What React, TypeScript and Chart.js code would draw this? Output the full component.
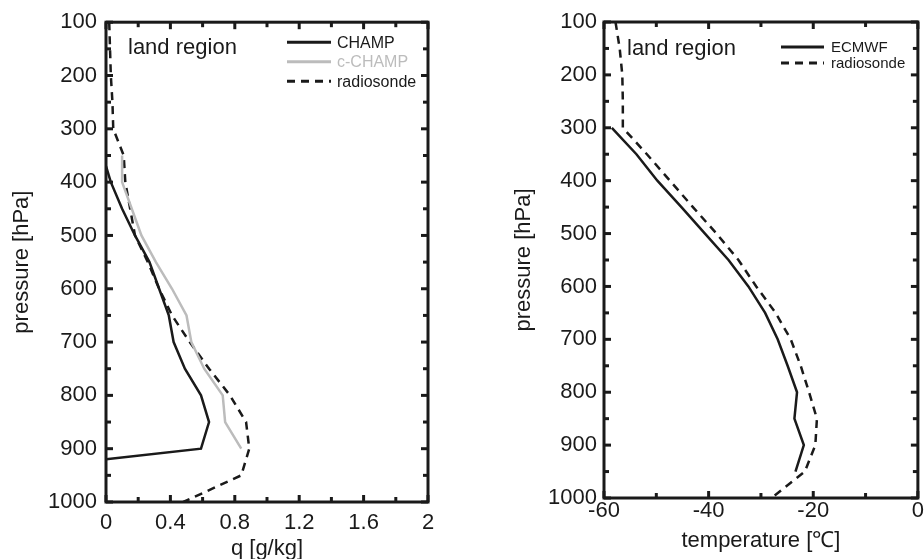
import React, { useEffect, useRef } from 'react';
import { Chart, registerables } from 'chart.js';
Chart.register(...registerables);

// ---------- data: left panel (specific humidity q [g/kg]) ----------
const champPressure = [370, 400, 450, 500, 550, 600, 650, 700, 750, 800, 850, 900, 920];
const champQ = [0, 0.03, 0.1, 0.18, 0.27, 0.33, 0.39, 0.42, 0.49, 0.59, 0.64, 0.59, 0];

const cChampPressure = [350, 400, 450, 500, 550, 600, 650, 700, 750, 800, 850, 900];
const cChampQ = [0.1, 0.1, 0.16, 0.22, 0.31, 0.41, 0.5, 0.53, 0.61, 0.725, 0.74, 0.84];

const sondeQPressure = [100, 150, 200, 250, 300, 350, 400, 450, 500, 550, 600, 650, 700, 750, 800, 850, 900, 950, 1000];
const sondeQ = [0.02, 0.025, 0.03, 0.04, 0.045, 0.11, 0.12, 0.15, 0.18, 0.26, 0.33, 0.41, 0.52, 0.64, 0.77, 0.87, 0.89, 0.84, 0.48];

// ---------- data: right panel (temperature [°C]) ----------
const ecmwfPressure = [300, 350, 400, 450, 500, 550, 600, 650, 700, 750, 800, 850, 900, 950];
const ecmwfT = [-58.5, -53.8, -49.8, -45.2, -40.7, -36.2, -32.4, -29.2, -26.8, -24.9, -23.1, -23.6, -21.8, -23.4];

const sondeTPressure = [100, 150, 200, 250, 300, 350, 400, 450, 500, 550, 600, 650, 700, 750, 800, 850, 900, 950, 1000];
const sondeT = [-57.8, -57.0, -56.5, -56.4, -56.4, -51.8, -47.4, -43.0, -38.5, -34.3, -30.9, -27.2, -24.3, -22.4, -20.8, -19.3, -19.6, -21.6, -28];

// ---------- ticks ----------
const pressureTicks = [100, 150, 200, 250, 300, 350, 400, 450, 500, 550, 600, 650, 700, 750, 800, 850, 900, 950, 1000];
const pressureLabels = [100, 200, 300, 400, 500, 600, 700, 800, 900, 1000];
const qTicks = [0, 0.2, 0.4, 0.6, 0.8, 1.0, 1.2, 1.4, 1.6, 1.8, 2.0];
const qLabels = [0, 0.4, 0.8, 1.2, 1.6, 2];
const tTicks = [-60, -50, -40, -30, -20, -10, 0];
const tLabels = [-60, -40, -20, 0];

const FONT = "'Liberation Sans', Arial, Helvetica, sans-serif";
const INK = '#1a1a1a';
const GRAY = '#bcbcbc';

const pairs = (xs: number[], ps: number[]) => xs.map((x, i) => ({ x, y: ps[i] }));
const fmt = (v: number) => String(Math.round(v * 10) / 10);
const hasLabel = (labels: number[], v: number) => labels.some((l) => Math.abs(l - v) < 1e-6);

const framePlugin = {
  id: 'frame',
  afterDraw(chart: any) {
    const { ctx, chartArea: a, scales } = chart;
    ctx.save();
    ctx.strokeStyle = INK;
    ctx.lineWidth = 3;
    ctx.lineCap = 'butt';
    const line = (x1: number, y1: number, x2: number, y2: number) => {
      ctx.beginPath();
      ctx.moveTo(x1, y1);
      ctx.lineTo(x2, y2);
      ctx.stroke();
    };
    const xs = scales.x;
    const ys = scales.y;
    xs.ticks.forEach((t: any) => {
      const px = xs.getPixelForValue(t.value);
      const len = t.label ? 7 : 5;
      line(px, a.bottom, px, a.bottom - len);
      line(px, a.top, px, a.top + len);
    });
    ys.ticks.forEach((t: any) => {
      const py = ys.getPixelForValue(t.value);
      const len = t.label ? 7 : 5;
      line(a.left, py, a.left + len, py);
      line(a.right, py, a.right - len, py);
    });
    ctx.strokeRect(a.left, a.top, a.right - a.left, a.bottom - a.top);
    ctx.restore();
  },
};

const annotPlugin = {
  id: 'annot',
  afterDraw(chart: any, _args: any, opts: any) {
    const { ctx, chartArea: a } = chart;
    ctx.save();
    ctx.font = `${opts.textSize}px ${FONT}`;
    ctx.fillStyle = INK;
    ctx.textBaseline = 'middle';
    ctx.textAlign = 'left';
    ctx.fillText(opts.text, a.left + opts.textDx, a.top + opts.textDy);
    ctx.font = `${opts.legendSize}px ${FONT}`;
    chart.data.datasets.forEach((ds: any, i: number) => {
      const y = a.top + opts.legendDy + i * opts.rowH;
      const x0 = a.left + opts.legendDx;
      ctx.strokeStyle = ds.borderColor;
      ctx.lineWidth = 3;
      ctx.setLineDash(ds.borderDash || []);
      ctx.beginPath();
      ctx.moveTo(x0, y);
      ctx.lineTo(x0 + opts.lineLen, y);
      ctx.stroke();
      ctx.setLineDash([]);
      ctx.fillStyle = ds.borderColor;
      ctx.fillText(ds.label, x0 + opts.lineLen + opts.gap, y + 1);
    });
    ctx.restore();
  },
};

function makeScale(ticksArr: number[], labels: number[], extra: any) {
  return {
    type: 'linear',
    afterBuildTicks: (s: any) => {
      s.ticks = ticksArr.map((v) => ({ value: v }));
    },
    ticks: {
      autoSkip: false,
      maxRotation: 0,
      color: INK,
      font: { family: FONT, size: 22 },
      callback: (v: number) => (hasLabel(labels, v) ? fmt(v) : ''),
      padding: extra.padding,
    },
    grid: { display: false, drawTicks: false },
    border: { display: false },
    title: {
      display: true,
      text: extra.title,
      color: INK,
      font: { family: FONT, size: 22, lineHeight: 1.2 },
      padding: extra.titlePadding,
    },
    min: extra.min,
    max: extra.max,
    reverse: extra.reverse || false,
    position: extra.position,
    afterFit: extra.afterFit,
  };
}

function Panel(props: { build: () => any; left: number }) {
  const ref = useRef<HTMLCanvasElement | null>(null);
  useEffect(() => {
    if (!ref.current) return;
    const chart = new Chart(ref.current, props.build());
    return () => chart.destroy();
  }, []);
  return (
    <canvas
      ref={ref}
      width={462}
      height={559}
      style={{ position: 'absolute', left: props.left, top: 0, width: 462, height: 559 }}
    />
  );
}

const buildLeft = () => ({
  type: 'scatter',
  data: {
    datasets: [
      { label: 'CHAMP', data: pairs(champQ, champPressure), borderColor: INK, borderWidth: 2.5, showLine: true, pointRadius: 0, borderDash: [] },
      { label: 'c-CHAMP', data: pairs(cChampQ, cChampPressure), borderColor: GRAY, borderWidth: 2.5, showLine: true, pointRadius: 0, borderDash: [] },
      { label: 'radiosonde', data: pairs(sondeQ, sondeQPressure), borderColor: INK, borderWidth: 2.5, showLine: true, pointRadius: 0, borderDash: [8, 6] },
    ],
  },
  options: {
    responsive: false,
    animation: false,
    layout: { padding: { top: 20, right: 34, left: 0, bottom: 0 } },
    plugins: {
      legend: { display: false },
      tooltip: { enabled: false },
      annot: { text: 'land region', textSize: 22, textDx: 22, textDy: 26, legendSize: 16, legendDx: 181, legendDy: 20, rowH: 19.5, lineLen: 44, gap: 6 },
    },
    scales: {
      x: makeScale(qTicks, qLabels, {
        min: 0, max: 2, position: 'bottom', padding: 8, title: 'q [g/kg]',
        titlePadding: { top: 0, bottom: -3 },
        afterFit: (s: any) => { s.height = 57; },
      }),
      y: makeScale(pressureTicks, pressureLabels, {
        min: 100, max: 1000, reverse: true, position: 'left', padding: 9, title: 'pressure [hPa]',
        titlePadding: { top: 9, bottom: 0 },
        afterFit: (s: any) => { s.width = 106; },
      }),
    },
  },
  plugins: [framePlugin, annotPlugin],
});

const buildRight = () => ({
  type: 'scatter',
  data: {
    datasets: [
      { label: 'ECMWF', data: pairs(ecmwfT, ecmwfPressure), borderColor: INK, borderWidth: 2.5, showLine: true, pointRadius: 0, borderDash: [] },
      { label: 'radiosonde', data: pairs(sondeT, sondeTPressure), borderColor: INK, borderWidth: 2.5, showLine: true, pointRadius: 0, borderDash: [8, 6] },
    ],
  },
  options: {
    responsive: false,
    animation: false,
    layout: { padding: { top: 22, right: 4, left: 0, bottom: 0 } },
    plugins: {
      legend: { display: false },
      tooltip: { enabled: false },
      annot: { text: 'land region', textSize: 22, textDx: 23, textDy: 27, legendSize: 15, legendDx: 177, legendDy: 25, rowH: 16, lineLen: 43, gap: 7 },
    },
    scales: {
      x: makeScale(tTicks, tLabels, {
        min: -60, max: 0, position: 'bottom', padding: 0, title: 'temperature [℃]',
        titlePadding: { top: 0, bottom: 5 },
        afterFit: (s: any) => { s.height = 61; },
      }),
      y: makeScale(pressureTicks, pressureLabels, {
        min: 100, max: 1000, reverse: true, position: 'left', padding: 7, title: 'pressure [hPa]',
        titlePadding: { top: 49, bottom: 0 },
        afterFit: (s: any) => { s.width = 142; },
      }),
    },
  },
  plugins: [framePlugin, annotPlugin],
});

export default function App() {
  return (
    <div style={{ position: 'fixed', left: 0, top: 0, width: 924, height: 559, background: '#fff', overflow: 'hidden' }}>
      <Panel build={buildLeft} left={0} />
      <Panel build={buildRight} left={462} />
    </div>
  );
}
